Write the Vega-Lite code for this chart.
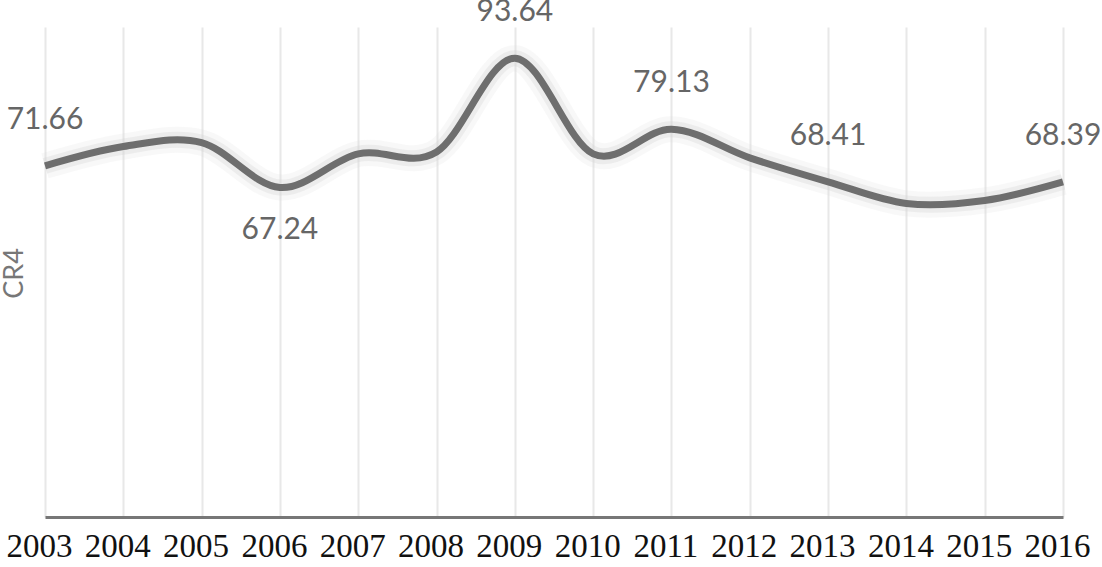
{
  "$schema": "https://vega.github.io/schema/vega-lite/v6.json",
  "description": "CR4 concentration ratio by year, 2003-2016.",
  "autosize": "none",
  "width": 1018,
  "height": 490,
  "padding": {"left": 45, "top": 27, "right": 39, "bottom": 50},
  "background": "white",
  "config": {"view": {"stroke": null}},
  "data": {
    "values": [
      {"year": 2003, "cr4": 71.66, "label": "71.66", "pos": "above"},
      {"year": 2004, "cr4": 75.6, "label": null, "pos": null},
      {"year": 2005, "cr4": 76.4, "label": null, "pos": null},
      {"year": 2006, "cr4": 67.24, "label": "67.24", "pos": "below"},
      {"year": 2007, "cr4": 74.1, "label": null, "pos": null},
      {"year": 2008, "cr4": 74.5, "label": null, "pos": null},
      {"year": 2009, "cr4": 93.64, "label": "93.64", "pos": "above"},
      {"year": 2010, "cr4": 74.1, "label": null, "pos": null},
      {"year": 2011, "cr4": 79.13, "label": "79.13", "pos": "above"},
      {"year": 2012, "cr4": 73.3, "label": null, "pos": null},
      {"year": 2013, "cr4": 68.41, "label": "68.41", "pos": "above"},
      {"year": 2014, "cr4": 64.0, "label": null, "pos": null},
      {"year": 2015, "cr4": 64.6, "label": null, "pos": null},
      {"year": 2016, "cr4": 68.39, "label": "68.39", "pos": "above"}
    ]
  },
  "encoding": {
    "x": {
      "field": "year",
      "type": "quantitative",
      "scale": {"domain": [2003, 2016], "nice": false, "zero": false},
      "axis": {
        "title": null,
        "values": [2003, 2004, 2005, 2006, 2007, 2008, 2009, 2010, 2011, 2012, 2013, 2014, 2015, 2016],
        "format": "d",
        "grid": true,
        "gridColor": "#e8e8e8",
        "gridWidth": 2,
        "ticks": false,
        "domainColor": "#777777",
        "domainWidth": 3,
        "labelFont": "Liberation Serif",
        "labelFontSize": 33,
        "labelColor": "#111111",
        "labelPadding": 13,
        "labelOffset": -6,
        "labelFlush": false,
        "labelOverlap": false
      }
    },
    "y": {
      "field": "cr4",
      "type": "quantitative",
      "scale": {"domain": [0, 100], "nice": false},
      "axis": {
        "title": "CR4",
        "titleFont": "Lato",
        "titleFontSize": 27,
        "titleFontWeight": "normal",
        "titleColor": "#777777",
        "titleAngle": -90,
        "titleX": -31,
        "titleY": 246,
        "titleAlign": "center",
        "titleBaseline": "middle",
        "labels": false,
        "ticks": false,
        "grid": false,
        "domain": false
      }
    }
  },
  "layer": [
    {
      "mark": {"type": "line", "interpolate": "cardinal", "color": "#d8d8d8", "strokeWidth": 26, "opacity": 0.18}
    },
    {
      "mark": {"type": "line", "interpolate": "cardinal", "color": "#cfcfcf", "strokeWidth": 16, "opacity": 0.3}
    },
    {
      "mark": {"type": "line", "interpolate": "cardinal", "color": "#6e6e6e", "strokeWidth": 7}
    },
    {
      "transform": [{"filter": "datum.pos === 'above'"}],
      "mark": {"type": "text", "font": "Lato", "fontSize": 30, "color": "#666666", "dy": -46, "align": "center", "baseline": "middle"},
      "encoding": {"text": {"field": "label"}}
    },
    {
      "transform": [{"filter": "datum.pos === 'below'"}],
      "mark": {"type": "text", "font": "Lato", "fontSize": 30, "color": "#666666", "dy": 42, "align": "center", "baseline": "middle"},
      "encoding": {"text": {"field": "label"}}
    }
  ]
}
